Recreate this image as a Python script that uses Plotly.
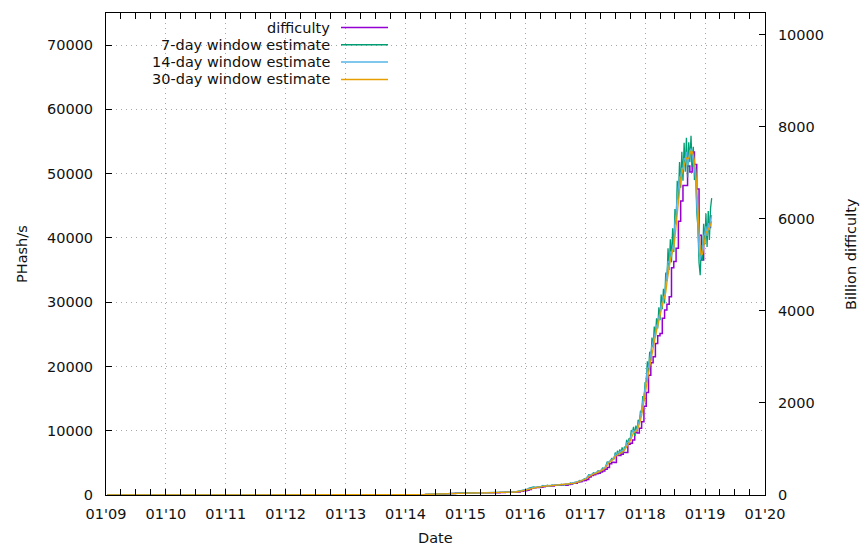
import plotly.graph_objects as go
import pandas as pd

# ---------------- data ----------------
# Difficulty (billions) at each adjustment (step series)
diff_dates = [
    "2009-01-09", "2010-07-01", "2011-07-01", "2012-07-01", "2013-07-01", "2013-10-01", "2013-12-01",
    "2014-01-01", "2014-02-01", "2014-03-01", "2014-04-01", "2014-05-01", "2014-06-01", "2014-07-01",
    "2014-08-01", "2014-09-01", "2014-10-01", "2014-11-01", "2014-12-01", "2015-01-01", "2015-02-01",
    "2015-03-01", "2015-04-01", "2015-05-01", "2015-06-01", "2015-07-01", "2015-08-01", "2015-09-01",
    "2015-10-01", "2015-11-01", "2015-12-01", "2015-12-20", "2016-01-10", "2016-01-24", "2016-02-07",
    "2016-02-21", "2016-03-06", "2016-03-20", "2016-04-03", "2016-04-17", "2016-05-01", "2016-05-15",
    "2016-05-29", "2016-06-12", "2016-06-26", "2016-07-10", "2016-07-24", "2016-08-07", "2016-08-21",
    "2016-09-04", "2016-09-18", "2016-10-02", "2016-10-16", "2016-10-30", "2016-11-13", "2016-11-27",
    "2016-12-11", "2016-12-25", "2017-01-08", "2017-01-22", "2017-02-05", "2017-02-19", "2017-03-05",
    "2017-03-19", "2017-04-02", "2017-04-16", "2017-04-30", "2017-05-14", "2017-05-28", "2017-06-11",
    "2017-06-25", "2017-07-09", "2017-07-23", "2017-08-06", "2017-08-20", "2017-09-03", "2017-09-17",
    "2017-10-01", "2017-10-15", "2017-10-29", "2017-11-12", "2017-11-26", "2017-12-10", "2017-12-24",
    "2018-01-07", "2018-01-21", "2018-02-04", "2018-02-18", "2018-03-04", "2018-03-18", "2018-04-01",
    "2018-04-15", "2018-04-29", "2018-05-13", "2018-05-27", "2018-06-10", "2018-06-24", "2018-07-08",
    "2018-07-22", "2018-08-05", "2018-08-19", "2018-09-02", "2018-09-16", "2018-09-30", "2018-10-14",
    "2018-10-28", "2018-11-11", "2018-11-25", "2018-12-09", "2018-12-23", "2019-01-06", "2019-01-20",
    "2019-02-03", "2019-02-12",
]
diff_values = [
    0.0, 0.0000002, 0.0015, 0.0018, 0.026, 0.27, 0.9,
    1.4, 2.2, 3.8, 6.1, 8.9, 11.8, 17.3,
    19.7, 27.4, 35.0, 40.3, 40.6, 44.4, 41.3,
    47.6, 47.4, 47.6, 49.4, 51.0, 52.3, 59.3,
    60.9, 65.0, 79.1, 93.4, 103.9, 120.0, 144.1,
    158.4, 163.5, 165.5, 166.9, 178.7, 194.2, 199.3,
    194.3, 196.1, 209.9, 213.4, 213.2, 220.0, 225.8,
    213.4, 225.8, 241.3, 253.6, 254.6, 281.9, 286.8,
    310.3, 317.7, 336.1, 392.9, 422.9, 440.8, 460.2,
    475.1, 499.6, 521.9, 559.9, 596.0, 678.8, 711.7,
    708.7, 860.2, 860.2, 888.2, 923.2, 922.7, 1103.4,
    1123.8, 1196.9, 1364.4, 1347.0, 1452.8, 1590.9, 1931.1,
    2227.4, 2603.9, 2874.8, 3007.4, 3290.6, 3462.5, 3511.0,
    3839.8, 4022.1, 4143.9, 4306.9, 4940.6, 5077.5, 5363.7,
    5949.4, 6389.3, 6727.2, 6727.2, 7152.6, 7019.9, 7454.7,
    7184.4, 6653.3, 5646.6, 5106.4, 5618.4, 5883.6, 5814.5,
    6061.5, 6061.5,
]

# Hash-rate estimate sample dates
early_dates = [
    "2009-01-09", "2010-01-01", "2011-01-01", "2012-01-01", "2013-01-01", "2013-07-01", "2013-10-01",
    "2014-01-01", "2014-03-01", "2014-05-01", "2014-07-01", "2014-09-01", "2014-11-01", "2015-01-01",
    "2015-03-01", "2015-05-01", "2015-07-01", "2015-09-01", "2015-11-01", "2015-12-13",
]
biweekly_dates = [d.strftime("%Y-%m-%d") for d in pd.date_range("2015-12-27", periods=40, freq="14D")]
weekly_dates = [d.strftime("%Y-%m-%d") for d in pd.date_range("2017-07-02", periods=85, freq="7D")]
est_dates = early_dates + biweekly_dates + weekly_dates

# PHash/s estimates
est7 = [
    0, 0, 0, 0.01, 0.03, 0.2, 2, 11, 38, 85, 145, 230, 300, 310, 330, 360, 390, 440, 470, 720,
    820, 810, 1060, 1100, 1240, 1150, 1280, 1250, 1470, 1370, 1520, 1360, 1570, 1470, 1620, 1500,
    1670, 1560, 1700, 1630, 1880, 1760, 1990, 1960, 2250, 2200, 2520, 2580, 3150, 3060, 3460, 3300,
    3780, 3640, 4200, 4110, 5150, 5070, 5680, 5650,
    6600, 6100, 6900, 6200, 7100, 6400, 7400, 6500, 7500, 7300,
    8600, 7800, 8800, 8500, 10100, 9800, 10600, 9200, 10800, 9900,
    11700, 11200, 13100, 12800, 15400, 14600, 17500, 17600, 20800, 19100,
    22300, 20900, 24500, 23000, 26200, 24600, 27500, 25900, 29200, 27200,
    31200, 28900, 32100, 29800, 34600, 33300, 38400, 35000, 39800, 36200,
    41500, 37800, 44500, 42100, 48900, 46000, 51800, 47800, 53400, 48900,
    54800, 50300, 55600, 49400, 54900, 51800, 55900, 51000, 54200, 49000,
    50800, 44000, 41800, 36100, 34200, 38900, 36500, 42200, 39000, 43800,
    38600, 44200, 39700, 44600, 46200,
]
est14 = [
    0, 0, 0, 0.01, 0.03, 0.2, 2, 10, 35, 80, 140, 220, 290, 300, 340, 350, 380, 430, 480, 700,
    790, 860, 1010, 1140, 1190, 1200, 1230, 1290, 1410, 1420, 1460, 1410, 1510, 1520, 1560, 1550,
    1610, 1610, 1640, 1690, 1810, 1820, 1910, 2040, 2160, 2290, 2420, 2680, 3020, 3180, 3320, 3430,
    3620, 3780, 4020, 4280, 4930, 5270, 5430, 5870,
    6300, 6400, 6500, 6500, 6700, 6700, 6900, 6900, 7100, 7500,
    8100, 8200, 8400, 8800, 9400, 10000, 10000, 9800, 10100, 10300,
    11100, 11500, 12400, 13400, 14600, 15100, 16600, 18100, 19700, 19900,
    21200, 21700, 23200, 23900, 25000, 25400, 26300, 26700, 27800, 28300,
    29700, 30000, 30800, 30900, 32800, 34700, 36300, 36200, 37800, 37700,
    38600, 39200, 42400, 43700, 46400, 47700, 49400, 49700, 50900, 50700,
    52400, 52200, 53400, 51300, 52900, 53600, 53900, 52800, 52300, 50800,
    49200, 45700, 40500, 37800, 36600, 37300, 38200, 40300, 40700, 41800,
    40300, 42300, 41200, 42800, 43500,
]
est30 = [
    0, 0, 0, 0.01, 0.03, 0.15, 1.5, 9, 32, 75, 130, 210, 280, 295, 335, 345, 375, 420, 465, 650,
    740, 800, 900, 1050, 1150, 1180, 1210, 1250, 1330, 1400, 1430, 1430, 1460, 1500, 1540, 1550,
    1580, 1610, 1620, 1660, 1740, 1810, 1860, 1970, 2100, 2220, 2350, 2530, 2840, 3100, 3250, 3380,
    3520, 3700, 3900, 4150, 4600, 5100, 5350, 5650,
    6000, 6100, 6250, 6350, 6450, 6550, 6700, 6800, 6950, 7200,
    7500, 7800, 8100, 8400, 8800, 9300, 9700, 9800, 9900, 10100,
    10500, 11000, 11600, 12400, 13400, 14300, 15300, 16500, 17800, 19000,
    20000, 21000, 22000, 23000, 24000, 24900, 25600, 26300, 27000, 27800,
    28700, 29600, 30200, 30700, 31500, 33000, 34500, 35700, 36600, 37300,
    37800, 38600, 40000, 42000, 44200, 46300, 48000, 49200, 50000, 50600,
    51200, 51900, 52500, 52300, 52400, 53000, 53500, 53400, 52900, 52000,
    50500, 48000, 44000, 40500, 38200, 37300, 37500, 38600, 39800, 40800,
    41000, 41300, 41600, 42000, 42600,
]

series_names = ["difficulty", "7-day window estimate", "14-day window estimate", "30-day window estimate"]
series_colors = ["#9400d3", "#009e73", "#56b4e9", "#e69f00"]

# axis scales
PH_MAX = 75000
PH_PER_BILLION_DIFF = 2**32 / 600 / 1e6   # PHash/s per billion difficulty
DIFF_MAX = PH_MAX / PH_PER_BILLION_DIFF

# ---------------- figure ----------------
FONT = "DejaVu Sans"
FS = 14.5
fig = go.Figure()

# difficulty on base (right) axis so it is drawn underneath
fig.add_trace(go.Scatter(x=diff_dates, y=diff_values, mode="lines", name=series_names[0],
                         line=dict(color=series_colors[0], width=1.5, shape="hv"),
                         xaxis="x", yaxis="y"))
for name, color, vals in zip(series_names[1:], series_colors[1:], [est7, est14, est30]):
    fig.add_trace(go.Scatter(x=est_dates, y=vals, mode="lines", name=name,
                             line=dict(color=color, width=1.3),
                             xaxis="x", yaxis="y2"))

# page body margin is removed (post_script), so figure pixels == page pixels
W, H = 861, 545
PLOT_LEFT, PLOT_RIGHT, PLOT_TOP, PLOT_BOTTOM = 106, 765, 13, 495
L, T = PLOT_LEFT, PLOT_TOP
R, B = W - PLOT_RIGHT, H - PLOT_BOTTOM
pw, ph = PLOT_RIGHT - PLOT_LEFT, PLOT_BOTTOM - PLOT_TOP

def px_x(p):
    return (p - PLOT_LEFT) / pw

def px_y(p):
    return (PLOT_BOTTOM - p) / ph

GRID = dict(showgrid=True, gridcolor="#a8a8a8", griddash="1px,4px", gridwidth=1)
tickfont = dict(family=FONT, size=FS, color="#111")
fig.update_layout(
    width=W, height=H, autosize=False,
    margin=dict(l=L, r=R, t=T, b=B, pad=0),
    paper_bgcolor="white", plot_bgcolor="white",
    showlegend=False, hovermode=False,
    font=dict(family=FONT, size=FS, color="#111"),
    xaxis=dict(
        type="date", range=["2009-01-01", "2020-01-01"],
        tick0="2009-01-01", dtick="M12", tickformat="%m'%y",
        ticks="inside", ticklen=6, tickwidth=1, tickcolor="black",
        showline=True, linecolor="black", linewidth=1, mirror="allticks",
        minor=dict(ticks="inside", ticklen=3, tickcolor="black", dtick="M3",
                   tick0="2009-01-01", showgrid=False),
        tickfont=tickfont, ticklabelstandoff=6, zeroline=False, **GRID,
    ),
    yaxis=dict(  # difficulty (right)
        range=[0, DIFF_MAX], side="right", dtick=2000, tick0=0, tickformat="d",
        ticks="inside", ticklen=6, tickcolor="black",
        showline=True, linecolor="black", linewidth=1,
        showgrid=False, zeroline=False,
        tickfont=tickfont, ticklabelstandoff=9,
    ),
    yaxis2=dict(  # PHash/s (left)
        range=[0, PH_MAX], side="left", overlaying="y", dtick=10000, tick0=0, tickformat="d",
        ticks="inside", ticklen=6, tickcolor="black",
        showline=True, linecolor="black", linewidth=1,
        zeroline=False, tickfont=tickfont, ticklabelstandoff=9, **GRID,
    ),
)

annotations = [
    dict(text="PHash/s", x=px_x(22), y=0.5, textangle=-90),
    dict(text="Billion difficulty", x=px_x(851), y=0.5, textangle=-90),
    dict(text="Date", x=px_x(435), y=px_y(538)),
]
shapes = []
legend_rows = [27.5, 44.8, 62.1, 79.4]
for name, color, yy in zip(series_names, series_colors, legend_rows):
    annotations.append(dict(text=name, x=px_x(332), y=px_y(yy), xanchor="right", yanchor="middle"))
    shapes.append(dict(type="line", xref="paper", yref="paper",
                       x0=px_x(341), x1=px_x(388), y0=px_y(yy), y1=px_y(yy),
                       line=dict(color=color, width=1.5)))
for a in annotations:
    a.setdefault("xanchor", "center")
    a.setdefault("yanchor", "middle")
    a.update(xref="paper", yref="paper", showarrow=False,
             font=dict(family=FONT, size=FS, color="#111"))
fig.update_layout(annotations=annotations, shapes=shapes)

fig.write_html("out.html",
               config={"displayModeBar": False, "staticPlot": True},
               post_script="document.body.style.margin='0';document.body.style.overflow='hidden';")
